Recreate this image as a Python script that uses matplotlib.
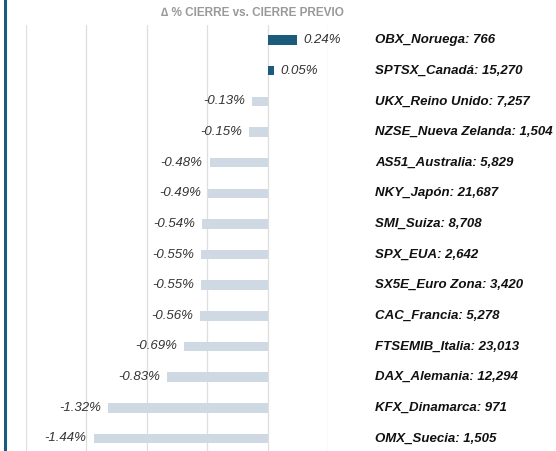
import matplotlib.pyplot as plt
import matplotlib.transforms as mtransforms
import numpy as np

plt.rcParams['font.family'] = ['Liberation Sans', 'DejaVu Sans']

indices = ["OBX_Noruega: 766", "SPTSX_Canadá: 15,270", "UKX_Reino Unido: 7,257",
           "NZSE_Nueva Zelanda: 1,504", "AS51_Australia: 5,829", "NKY_Japón: 21,687",
           "SMI_Suiza: 8,708", "SPX_EUA: 2,642", "SX5E_Euro Zona: 3,420",
           "CAC_Francia: 5,278", "FTSEMIB_Italia: 23,013", "DAX_Alemania: 12,294",
           "KFX_Dinamarca: 971", "OMX_Suecia: 1,505"]
changes = [0.24, 0.05, -0.13, -0.15, -0.48, -0.49, -0.54, -0.55, -0.55, -0.56,
           -0.69, -0.83, -1.32, -1.44]

pos_color = "#1b5c7c"
neg_color = "#cfd9e4"

W, H = 556, 451
fig = plt.figure(figsize=(W / 100, H / 100), dpi=100)
ax = fig.add_axes([26 / W, 0, (328 - 26) / W, (451 - 25) / H])

y = np.arange(len(changes))
colors = [pos_color if v > 0 else neg_color for v in changes]
ax.barh(y, changes, height=0.31, color=colors, zorder=2)

ax.set_xlim(-2.0, 0.5)
ax.set_ylim(len(changes) - 1 + 0.41, -0.49)
ax.set_xticks(np.arange(-2.0, 0.51, 0.5))
ax.grid(axis="x", color="#dedede", linewidth=0.9, zorder=0)
ax.tick_params(left=False, bottom=False, labelleft=False, labelbottom=False)
for s in ax.spines.values():
    s.set_visible(False)

gap = 0.058
for yi, v in zip(y, changes):
    if v > 0:
        ax.text(v + gap, yi, f"{v:.2f}%", ha="left", va="center",
                fontsize=9.5, style="italic", color="#333333")
    else:
        ax.text(v - gap, yi, f"{v:.2f}%", ha="right", va="center",
                fontsize=9.5, style="italic", color="#333333")

name_tr = mtransforms.blended_transform_factory(fig.transFigure, ax.transData)
for yi, name in zip(y, indices):
    ax.text(375 / W, yi, name, transform=name_tr, ha="left", va="center",
            fontsize=9.5, style="italic", fontweight="bold", color="#111111")

fig.text(252 / W, 1 - 13 / H, "∆ % CIERRE vs. CIERRE PREVIO", ha="center", va="center",
         fontsize=8.5, fontweight="bold", color="#999999")

fig.add_artist(plt.Line2D([4.5 / W, 4.5 / W], [0, 1], color=pos_color, linewidth=2.2))

fig.savefig("out.png", dpi=100)
